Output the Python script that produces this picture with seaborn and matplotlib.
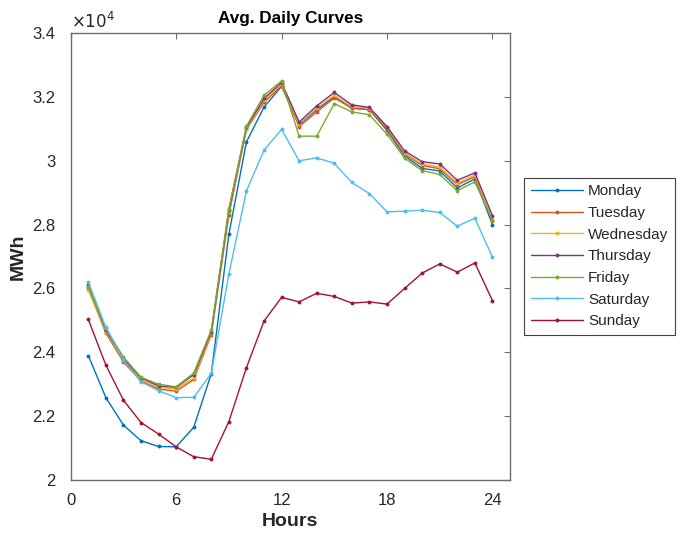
import matplotlib
matplotlib.use("Agg")
import matplotlib.pyplot as plt
import matplotlib.ticker as mticker
import seaborn as sns
import pandas as pd

hours = list(range(1, 25))
days = ["Monday", "Tuesday", "Wednesday", "Thursday", "Friday", "Saturday", "Sunday"]

# values in units of 10^4 MWh
monday = [2.39, 2.258, 2.172, 2.123, 2.105, 2.104, 2.165, 2.333, 2.77, 3.059, 3.168, 3.233,
          3.113, 3.16, 3.20, 3.165, 3.16, 3.095, 3.015, 2.976, 2.968, 2.915, 2.943, 2.80]
tuesday = [2.60, 2.46, 2.37, 2.31, 2.285, 2.278, 2.315, 2.455, 2.83, 3.098, 3.183, 3.235,
           3.107, 3.153, 3.197, 3.165, 3.16, 3.10, 3.02, 2.985, 2.975, 2.925, 2.95, 2.81]
wednesday = [2.595, 2.465, 2.375, 2.315, 2.29, 2.285, 2.32, 2.46, 2.84, 3.10, 3.19, 3.24,
             3.115, 3.165, 3.205, 3.17, 3.165, 3.105, 3.025, 2.99, 2.98, 2.93, 2.955, 2.815]
thursday = [2.61, 2.47, 2.38, 2.32, 2.295, 2.29, 2.33, 2.465, 2.845, 3.105, 3.195, 3.245,
            3.121, 3.172, 3.214, 3.175, 3.167, 3.107, 3.031, 2.997, 2.99, 2.939, 2.962, 2.828]
friday = [2.605, 2.475, 2.385, 2.322, 2.30, 2.292, 2.335, 2.47, 2.85, 3.108, 3.205, 3.25,
          3.077, 3.077, 3.179, 3.153, 3.144, 3.083, 3.008, 2.969, 2.957, 2.906, 2.934, 2.814]
saturday = [2.62, 2.478, 2.376, 2.308, 2.28, 2.258, 2.259, 2.334, 2.645, 2.905, 3.033, 3.098,
            3.0, 3.009, 2.992, 2.932, 2.897, 2.84, 2.842, 2.845, 2.838, 2.795, 2.82, 2.698]
sunday = [2.503, 2.36, 2.25, 2.18, 2.144, 2.104, 2.073, 2.065, 2.183, 2.352, 2.498, 2.572,
          2.558, 2.585, 2.575, 2.554, 2.558, 2.551, 2.60, 2.648, 2.677, 2.651, 2.68, 2.562]

series = [monday, tuesday, wednesday, thursday, friday, saturday, sunday]
colors = ["#0072BD", "#D95319", "#EDB120", "#7E2F8E", "#77AC30", "#4DBEEE", "#A2142F"]
x_ticks = [0, 6, 12, 18, 24]
y_ticks = [2.0, 2.2, 2.4, 2.6, 2.8, 3.0, 3.2, 3.4]

rows = []
for d, vals in zip(days, series):
    for h, v in zip(hours, vals):
        rows.append({"Hours": h, "MWh": v * 1e4, "Day": d})
df = pd.DataFrame(rows)

sns.set_style("white")
plt.rcParams["font.family"] = ["Liberation Sans", "DejaVu Sans"]

fig = plt.figure(figsize=(6.8, 5.33), dpi=100)
ax = fig.add_axes([0.104, 0.0994, 0.646, 0.8386])

sns.lineplot(data=df, x="Hours", y="MWh", hue="Day", hue_order=days,
             palette=colors, marker="o", markersize=2.8, markeredgewidth=0,
             linewidth=1.0, ax=ax, legend=True)

ax.set_xlim(0, 25)
ax.set_ylim(20000, 34000)
ax.set_xticks(x_ticks)
ax.set_yticks([t * 1e4 for t in y_ticks])
ax.yaxis.set_major_formatter(mticker.FuncFormatter(lambda v, p: f"{v / 1e4:g}"))
ax.text(0.0, 1.004, r"$\times10^{4}$", transform=ax.transAxes, fontsize=12,
        color="#262626", ha="left", va="bottom")

spine_col = "#6e6e6e"
ax.tick_params(axis="both", direction="in", length=4, width=0.8, colors=spine_col,
               labelsize=12, top=True, right=True, labelcolor="#262626")
ax.tick_params(axis="x", pad=9)
ax.tick_params(axis="y", pad=11)
for s in ax.spines.values():
    s.set_linewidth(1.0)
    s.set_color(spine_col)

ax.set_xlabel("Hours", fontsize=14, fontweight="bold", color="#262626", labelpad=4)
ax.set_ylabel("MWh", fontsize=14, fontweight="bold", color="#262626", labelpad=4)
ax.set_title("Avg. Daily Curves", fontsize=12.3, fontweight="bold", color="#000000", pad=7)

handles, labels = ax.get_legend_handles_labels()
ax.get_legend().remove()
leg = fig.legend(handles, labels, loc="upper left", bbox_to_anchor=(0.771, 0.666),
                 frameon=True, fancybox=False, framealpha=1, edgecolor="#404040",
                 fontsize=11, handlelength=3.4, borderpad=0.42, labelspacing=0.5,
                 handletextpad=0.35, borderaxespad=0)
leg.get_frame().set_linewidth(0.8)

fig.savefig("out.png", dpi=100)
